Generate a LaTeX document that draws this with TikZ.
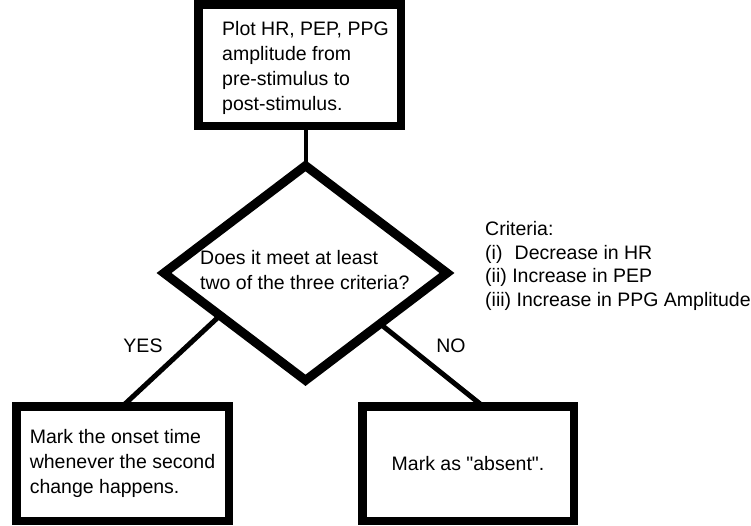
\documentclass[tikz,border=0pt]{standalone}
\usepackage{fontspec}
\setmainfont{Liberation Sans}[Ligatures=TeXOff]
\usetikzlibrary{shapes.geometric,calc}
\begin{document}
\begin{tikzpicture}[x=1pt,y=-1pt,
  every node/.style={font=\fontsize{19.5}{25}\selectfont},
  box/.style={draw=black, line width=8.5pt, fill=white, outer sep=0pt, inner sep=0pt},
  decision/.style={diamond, draw=black, line width=9pt, fill=white, outer sep=0pt, inner sep=0pt, line join=miter},
  txt/.style={align=left, inner sep=0pt},
  link/.style={draw=black, line width=5pt},
  stem/.style={draw=black, line width=4pt}]
\useasboundingbox (0,0) rectangle (751,525);

% process box at the top
\node[box, minimum width=202.5pt, minimum height=121.5pt] (plot) at (299.5,65) {};
\node[txt, anchor=west] (plottext) at (222,67.5)
  {Plot HR, PEP, PPG\\amplitude from\\pre-stimulus to\\post-stimulus.};

% decision
\node[decision, minimum width=283pt, minimum height=214.6pt] (check) at (305.5,273) {};
\node[txt, anchor=west] (checktext) at (200,270)
  {Does it meet at least\\two of the three criteria?};

% outcomes
\node[box, minimum width=212.5pt, minimum height=114.5pt, align=left] (yesbox) at (122.5,463.5)
  {Mark the onset time\\whenever the second\\change happens.};
\node[box, minimum width=211.5pt, minimum height=114.5pt] (nobox) at (468,463.5)
  {Mark as "absent".};

% criteria list
\node[txt, anchor=west, font=\fontsize{19.5}{23.5}\selectfont] (criteria) at (485,266)
  {Criteria:\\\makebox[29.5pt][l]{(i)}Decrease in HR\\(ii) Increase in PEP\\(iii) Increase in PPG Amplitude};

% connectors
\coordinate (yesfrom) at ($(check.west)!0.396!(check.south)$);
\coordinate (nofrom) at ($(check.east)!0.473!(check.south)$);
\draw[stem] (plot.south -| check.north) -- (check.north);
\draw[link] (yesfrom) -- (yesbox.north);
\draw[link] (nofrom) -- ([xshift=15pt]nobox.north);

\node (yes) at (143,346) {YES};
\node (no) at (451,346) {NO};
\end{tikzpicture}
\end{document}
